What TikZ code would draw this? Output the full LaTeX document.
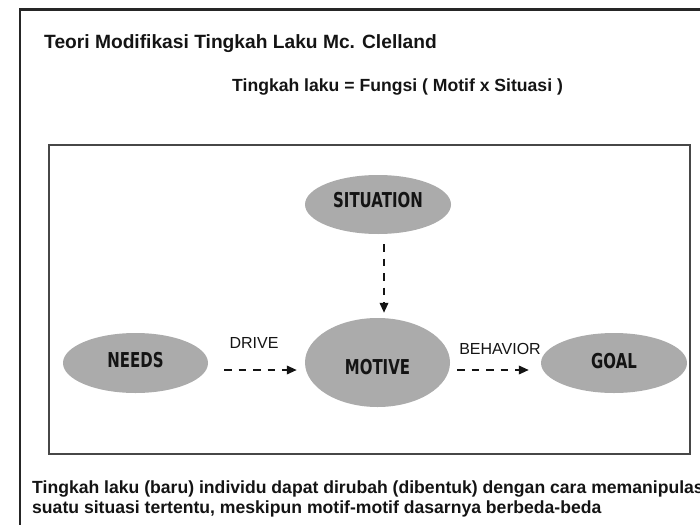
\documentclass[tikz,border=0pt]{standalone}
\usepackage{fontspec}
\setmainfont{Liberation Sans}
\newfontfamily\ellfont[FakeStretch=0.73]{DejaVu Sans}
\usetikzlibrary{arrows.meta,shapes.geometric}
\definecolor{ellgray}{RGB}{171,171,171}
\definecolor{ink}{RGB}{20,20,20}
\newcommand\liftlbl[2]{\raisebox{#1}[0pt][0pt]{#2}}
\tikzset{
  ell/.style={ellipse, fill=ellgray, inner sep=0pt, text=ink,
    font=\ellfont\bfseries\fontsize{20.5}{20.5}\selectfont},
  flowarrow/.style={draw=ink, line width=2pt, dash pattern=on 7.5pt off 7pt,
    -{Triangle[length=10pt,width=8.5pt]}},
  arrlabel/.style={font=\fontsize{16}{16}\selectfont, text=ink, inner sep=0pt},
  headtext/.style={anchor=base west, inner sep=0pt, text=ink, font=\bfseries},
}
\begin{document}
\begin{tikzpicture}[x=1pt,y=-1pt]
\useasboundingbox (0,0) rectangle (700,524);
% outer frame (extends beyond the page on right and bottom)
\draw[line width=2.5pt, draw=black!85] (20,9.5) rectangle (740,580);
% inner box
\draw[line width=1.5pt, draw=black!72] (49,145) rectangle (690,454);

% texts
\node[headtext, font=\bfseries\fontsize{19.2}{22}\selectfont] (title) at (44,49) {Teori Modifikasi Tingkah Laku Mc. Clelland};
\node[headtext, font=\bfseries\fontsize{17.6}{20}\selectfont] (formula) at (232,92) {Tingkah laku = Fungsi ( Motif x Situasi )};
\node[headtext, font=\bfseries\fontsize{17.6}{20}\selectfont] (noteA) at (32,493) {Tingkah laku (baru) individu dapat dirubah (dibentuk) dengan cara memanipulasi};
\node[headtext, font=\bfseries\fontsize{17.6}{20}\selectfont] (noteB) at (32,513) {suatu situasi tertentu, meskipun motif-motif dasarnya berbeda-beda};

% ellipses
\node[ell, minimum width=146pt, minimum height=59pt] (situation) at (378,204.5) {\liftlbl{-3pt}{SITUATION}};
\node[ell, minimum width=145pt, minimum height=89pt] (motive) at (377.5,362.5) {\liftlbl{-11.5pt}{MOTIVE}};
\node[ell, minimum width=145pt, minimum height=60pt] (needs) at (135.5,363) {\liftlbl{-4pt}{NEEDS}};
\node[ell, minimum width=146pt, minimum height=60pt] (goal) at (614,363) {\liftlbl{-5pt}{GOAL}};

% arrows
\draw[flowarrow] ([xshift=6pt,yshift=-10pt]situation.south) -- ([xshift=6.5pt,yshift=5pt]motive.north);
\draw[flowarrow] ([xshift=16pt,yshift=-7pt]needs.east) -- ([xshift=-8pt,yshift=-7.5pt]motive.west);
\draw[flowarrow] ([xshift=7pt,yshift=-7.5pt]motive.east) -- ([xshift=-12pt,yshift=-7pt]goal.west);

% arrow labels
\node[arrlabel] (drive) at (254,342.5) {DRIVE};
\node[arrlabel] (behavior) at (500,349) {BEHAVIOR};
\end{tikzpicture}
\end{document}
